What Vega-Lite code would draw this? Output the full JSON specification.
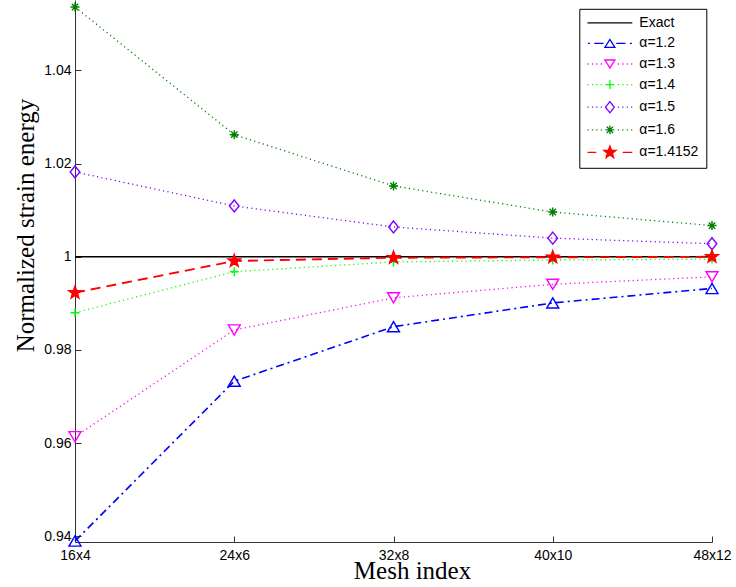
{
  "$schema": "https://vega.github.io/schema/vega-lite/v6.json",
  "width": 637,
  "height": 542,
  "autosize": {"type": "none"},
  "padding": {"left": 75, "top": 0, "right": 24, "bottom": 45},
  "background": "white",
  "config": {"view": {"stroke": null}, "font": "Liberation Sans"},
  "data": {
    "values": [
      {"mesh": "16x4", "series": "Exact", "v": 1},
      {"mesh": "24x6", "series": "Exact", "v": 1},
      {"mesh": "32x8", "series": "Exact", "v": 1},
      {"mesh": "40x10", "series": "Exact", "v": 1},
      {"mesh": "48x12", "series": "Exact", "v": 1},
      {"mesh": "16x4", "series": "α=1.2", "v": 0.9390},
      {"mesh": "24x6", "series": "α=1.2", "v": 0.9733},
      {"mesh": "32x8", "series": "α=1.2", "v": 0.9850},
      {"mesh": "40x10", "series": "α=1.2", "v": 0.9901},
      {"mesh": "48x12", "series": "α=1.2", "v": 0.9932},
      {"mesh": "16x4", "series": "α=1.3", "v": 0.9614},
      {"mesh": "24x6", "series": "α=1.3", "v": 0.9843},
      {"mesh": "32x8", "series": "α=1.3", "v": 0.9912},
      {"mesh": "40x10", "series": "α=1.3", "v": 0.9941},
      {"mesh": "48x12", "series": "α=1.3", "v": 0.9957},
      {"mesh": "16x4", "series": "α=1.4", "v": 0.9880},
      {"mesh": "24x6", "series": "α=1.4", "v": 0.9968},
      {"mesh": "32x8", "series": "α=1.4", "v": 0.9989},
      {"mesh": "40x10", "series": "α=1.4", "v": 0.9993},
      {"mesh": "48x12", "series": "α=1.4", "v": 0.9995},
      {"mesh": "16x4", "series": "α=1.5", "v": 1.0182},
      {"mesh": "24x6", "series": "α=1.5", "v": 1.0109},
      {"mesh": "32x8", "series": "α=1.5", "v": 1.0064},
      {"mesh": "40x10", "series": "α=1.5", "v": 1.0040},
      {"mesh": "48x12", "series": "α=1.5", "v": 1.0028},
      {"mesh": "16x4", "series": "α=1.6", "v": 1.0536},
      {"mesh": "24x6", "series": "α=1.6", "v": 1.0262},
      {"mesh": "32x8", "series": "α=1.6", "v": 1.0152},
      {"mesh": "40x10", "series": "α=1.6", "v": 1.0096},
      {"mesh": "48x12", "series": "α=1.6", "v": 1.0067},
      {"mesh": "16x4", "series": "α=1.4152", "v": 0.9923},
      {"mesh": "24x6", "series": "α=1.4152", "v": 0.9991},
      {"mesh": "32x8", "series": "α=1.4152", "v": 0.9998},
      {"mesh": "40x10", "series": "α=1.4152", "v": 0.9999},
      {"mesh": "48x12", "series": "α=1.4152", "v": 1.0000}
    ]
  },
  "encoding": {
    "x": {
      "field": "mesh",
      "type": "ordinal",
      "scale": {"type": "point", "padding": 0, "domain": ["16x4", "24x6", "32x8", "40x10", "48x12"]},
      "axis": {
        "labelAngle": 0,
        "tickSize": -6,
        "tickColor": "#333333",
        "domainColor": "#333333",
        "labelPadding": 12,
        "labelFontSize": 14,
        "labelFont": "Liberation Sans",
        "labelColor": "black",
        "title": "Mesh index",
        "titleFont": "Liberation Serif",
        "titleFontSize": 25,
        "titleFontWeight": "normal",
        "titleColor": "black",
        "titleX": 337,
        "titleY": 36,
        "titleBaseline": "alphabetic",
        "grid": false
      }
    },
    "y": {
      "field": "v",
      "type": "quantitative",
      "scale": {"domain": [0.9388, 1.0551], "nice": false, "zero": false},
      "axis": {
        "values": [0.94, 0.96, 0.98, 1, 1.02, 1.04],
        "format": "~g",
        "tickSize": -6,
        "tickColor": "#333333",
        "domainColor": "#333333",
        "labelPadding": 10,
        "labelFontSize": 14,
        "labelFont": "Liberation Sans",
        "labelColor": "black",
        "labelFlush": false,
        "labelOverlap": false,
        "title": "Normalized strain energy",
        "titleFont": "Liberation Serif",
        "titleFontSize": 25,
        "titleFontWeight": "normal",
        "titleColor": "black",
        "titleX": -41.5,
        "titleY": 225,
        "titleBaseline": "alphabetic",
        "grid": false
      }
    }
  },
  "layer": [
    {
      "transform": [{"filter": "datum.series === 'Exact'"}],
      "mark": {"type": "line", "strokeWidth": 1.6},
      "encoding": {
        "stroke": {
          "field": "series",
          "type": "nominal",
          "scale": {
            "domain": ["Exact", "α=1.2", "α=1.3", "α=1.4", "α=1.5", "α=1.6", "α=1.4152"],
            "range": ["#000000", "#0000ff", "#ff00ff", "#00ff00", "#8000ff", "#008000", "#ff0000"]
          },
          "legend": {
            "title": null,
            "orient": "none",
            "legendX": 504.3,
            "legendY": 8.8,
            "strokeColor": "black",
            "fillColor": "white",
            "padding": 7,
            "rowPadding": 6.6,
            "symbolSize": 64,
            "symbolStrokeWidth": 1.3,
            "symbolOffset": 16.6,
            "labelOffset": 22.4,
            "labelFontSize": 14,
            "labelFont": "Liberation Sans",
            "labelColor": "black",
            "encode": {
              "symbols": {
                "update": {
                  "shape": {"signal": "datum.value === 'Exact' ? 'M-5.6,0H5.6' : datum.value === 'α=1.2' ? 'M-5.5,0H-5M-3.9,0H-1.6M1.6,0H3.9M5,0H5.5M0,-1L1.25,1L-1.25,1Z' : datum.value === 'α=1.3' ? 'M-5.6,0H-5.3M-4.5,0H-4.2M-3.4,0H-3.1M-2.3,0H-2M2,0H2.3M3.1,0H3.4M4.2,0H4.5M5.3,0H5.6M0,1L1.25,-1L-1.25,-1Z' : datum.value === 'α=1.4' ? 'M-5.6,0H-5.3M-4.5,0H-4.2M-3.4,0H-3.1M-2.3,0H-2M2,0H2.3M3.1,0H3.4M4.2,0H4.5M5.3,0H5.6M-1.1,0H1.1M0,-1.1V1.1' : datum.value === 'α=1.5' ? 'M-5.6,0H-5.3M-4.5,0H-4.2M-3.4,0H-3.1M-2.3,0H-2M2,0H2.3M3.1,0H3.4M4.2,0H4.5M5.3,0H5.6M0,-1.4L1.1,0L0,1.4L-1.1,0Z' : datum.value === 'α=1.6' ? 'M-5.6,0H-5.3M-4.5,0H-4.2M-3.4,0H-3.1M-2.3,0H-2M2,0H2.3M3.1,0H3.4M4.2,0H4.5M5.3,0H5.6M-1.1,0H1.1M0,-1.1V1.1M-0.8,-0.8L0.8,0.8M-0.8,0.8L0.8,-0.8' : 'M-5.6,0H-3.4M3.2,0H5.6M0,-1.6L0.382,-0.526L1.522,-0.494L0.618,0.201L0.94,1.294L0,0.65L-0.94,1.294L-0.618,0.201L-1.522,-0.494L-0.382,-0.526Z'"},
                  "size": {"value": 64},
                  "strokeDash": {"value": [1, 0]},
                  "opacity": {"value": 1},
                  "fill": {"signal": "datum.value === 'α=1.4152' ? '#ff0000' : datum.value === 'α=1.6' ? '#008000' : 'transparent'"}
                }
              }
            }
          }
        }
      }
    },
    {
      "transform": [{"filter": "datum.series === 'α=1.2'"}],
      "mark": {"type": "line", "strokeWidth": 1.6, "strokeDash": [8, 4, 2, 4]},
      "encoding": {"stroke": {"field": "series", "type": "nominal", "legend": null}}
    },
    {
      "transform": [{"filter": {"field": "series", "oneOf": ["α=1.3", "α=1.4", "α=1.5", "α=1.6"]}}],
      "mark": {"type": "line", "strokeWidth": 1.3, "strokeDash": [1.2, 3.3]},
      "encoding": {"stroke": {"field": "series", "type": "nominal", "legend": null}}
    },
    {
      "transform": [{"filter": "datum.series === 'α=1.4152'"}],
      "mark": {"type": "line", "strokeWidth": 1.9, "strokeDash": [10, 6]},
      "encoding": {"stroke": {"field": "series", "type": "nominal", "legend": null}}
    },
    {
      "transform": [{"filter": "datum.series !== 'Exact'"}],
      "mark": {"type": "point", "size": 144, "strokeWidth": 1.4, "opacity": 1},
      "encoding": {
        "stroke": {"field": "series", "type": "nominal", "legend": null},
        "shape": {
          "field": "series",
          "type": "nominal",
          "scale": {
            "range": [
              "M0,-0.85L1,0.85L-1,0.85Z",
              "M0,0.85L1,-0.85L-1,-0.85Z",
              "M-0.75,0H0.75M0,-0.75V0.75",
              "M0,-1.1L0.265,-0.364L1.046,-0.34L0.428,0.139L0.647,0.89L0,0.45L-0.647,0.89L-0.428,0.139L-1.046,-0.34L-0.265,-0.364Z",
              "M0,-1L0.8,0L0,1L-0.8,0Z",
              "M-0.75,0H0.75M0,-0.75V0.75M-0.53,-0.53L0.53,0.53M-0.53,0.53L0.53,-0.53"
            ]
          },
          "legend": null
        },
        "fill": {
          "field": "series",
          "type": "nominal",
          "scale": {
            "range": ["transparent", "transparent", "transparent", "#ff0000", "transparent", "#008000"]
          },
          "legend": null
        }
      }
    }
  ]
}
